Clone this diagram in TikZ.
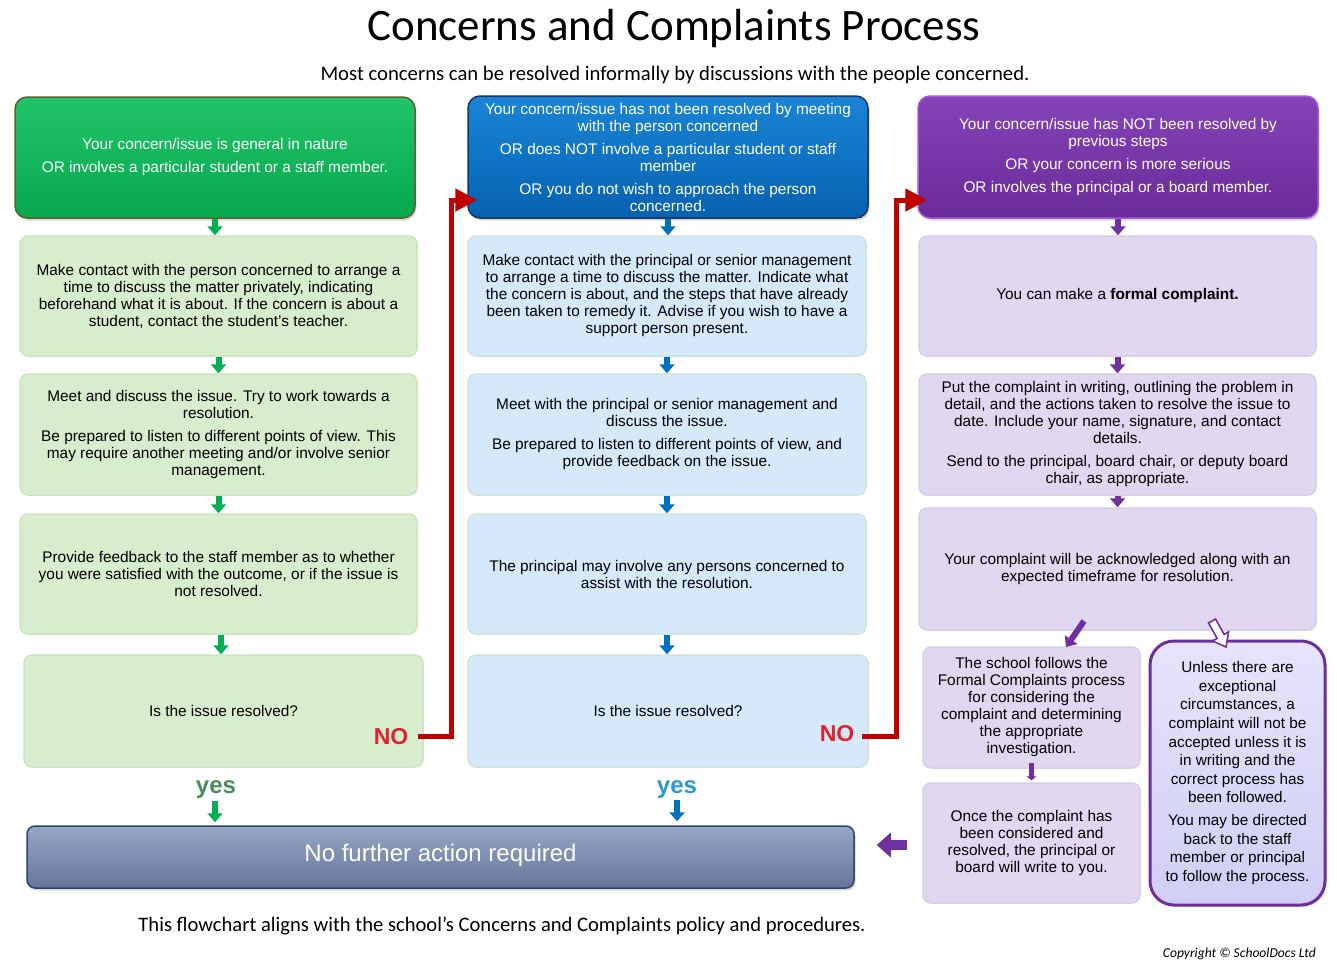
\documentclass[tikz,border=0pt]{standalone}
\usepackage{fontspec}
\setmainfont{Liberation Sans}
\newfontfamily\carlito{Carlito}
\usetikzlibrary{arrows.meta,shadows,calc}
\definecolor{gtop}{HTML}{22C46A}
\definecolor{gbot}{HTML}{05A84B}
\definecolor{gbord}{HTML}{5B6430}
\definecolor{btop}{HTML}{1A84D6}
\definecolor{bbot}{HTML}{0662B0}
\definecolor{bbord}{HTML}{1B3564}
\definecolor{ptop}{HTML}{8442B8}
\definecolor{pbot}{HTML}{6A2C98}
\definecolor{pbord}{HTML}{A656DE}
\definecolor{lgreen}{HTML}{D8EDCD}
\definecolor{lgreenb}{HTML}{CBE5BE}
\definecolor{lblue}{HTML}{D5E9FA}
\definecolor{lblueb}{HTML}{CFE3DA}
\definecolor{lpurp}{HTML}{E0D8F0}
\definecolor{lpurpb}{HTML}{D6CFE6}
\definecolor{rtop}{HTML}{E6E4FB}
\definecolor{rbot}{HTML}{D0CEF5}
\definecolor{rbord}{HTML}{6E2E9E}
\definecolor{bartop}{HTML}{97A6C6}
\definecolor{barbot}{HTML}{65769A}
\definecolor{barbord}{HTML}{2C4475}
\definecolor{agreen}{HTML}{00B050}
\definecolor{ablue}{HTML}{0070C0}
\definecolor{apurp}{HTML}{7030A0}
\definecolor{redc}{HTML}{C00000}
\definecolor{nored}{HTML}{E0222C}
\definecolor{yesg}{HTML}{4A8C5C}
\definecolor{yesb}{HTML}{2A9AD6}
\begin{document}
\begin{tikzpicture}[x=1pt,y=-1pt,
  txt/.style={font=\fontsize{15.4}{17}\selectfont, align=center, inner sep=0pt},
  hdr/.style={txt, rounded corners=12pt, line width=1.5pt, text=white,
    drop shadow={opacity=0.3,shadow xshift=1.5pt,shadow yshift=-2.5pt}},
  lbox/.style={txt, rounded corners=8pt, line width=1.5pt},
  gbox/.style={lbox, fill=lgreen, draw=lgreenb},
  bbox/.style={lbox, fill=lblue, draw=lblueb},
  pbox/.style={lbox, fill=lpurp, draw=lpurpb},
  dnarrow/.style={line width=6pt, -{Triangle[width=15pt,length=9pt]}},
  garrow/.style={dnarrow, draw=agreen, color=agreen},
  barrow/.style={dnarrow, draw=ablue, color=ablue},
  parrow/.style={dnarrow, draw=apurp, color=apurp},
  redl/.style={draw=redc, color=redc, line width=5pt, line join=miter, -{Triangle[width=22pt,length=22pt]}},
  nolab/.style={font=\bfseries\fontsize{23}{23}\selectfont, text=nored, inner sep=0pt},
  yeslab/.style={font=\bfseries\fontsize{24}{24}\selectfont, inner sep=0pt},
]
\useasboundingbox[fill=white] (0,0) rectangle (1337,975);

% titles
\node[font=\carlito\fontsize{45}{45}\selectfont, anchor=base, inner sep=0pt] (title) at (674,40) {Concerns and Complaints Process};
\node[font=\carlito\fontsize{20.7}{22}\selectfont, anchor=base, inner sep=0pt] (sub) at (675,80) {Most concerns can be resolved informally by discussions with the people concerned.};
\node[font=\carlito\fontsize{20.6}{22}\selectfont, anchor=base, inner sep=0pt] (foot) at (502,931) {This flowchart aligns with the school’s Concerns and Complaints policy and procedures.};
\node[font=\carlito\itshape\fontsize{13.6}{15}\selectfont, anchor=base east, inner sep=0pt] (copy) at (1316,957) {Copyright © SchoolDocs Ltd};

% column 1
\node[hdr, top color=gtop, bottom color=gbot, draw=gbord, minimum width=400pt, minimum height=121pt] (g0) at (215,157.5)
 {Your concern/issue is general in nature\\[6pt]OR involves a particular student or a staff member.};
\node[gbox, minimum width=397pt, minimum height=120pt] (g1) at (218.5,296)
 {Make contact with the person concerned to arrange a\\time to discuss the matter privately, indicating\\beforehand what it is about. If the concern is about a\\student, contact the student’s teacher.};
\node[gbox, minimum width=397pt, minimum height=121pt] (g2) at (218.5,434.5)
 {Meet and discuss the issue. Try to work towards a\\resolution.\\[6pt]Be prepared to listen to different points of view. This\\may require another meeting and/or involve senior\\management.};
\node[gbox, minimum width=397pt, minimum height=120pt] (g3) at (218.5,574)
 {Provide feedback to the staff member as to whether\\you were satisfied with the outcome, or if the issue is\\not resolved.};
\node[gbox, minimum width=399pt, minimum height=112pt] (g4) at (223.5,711) {Is the issue resolved?};

% column 2
\node[hdr, top color=btop, bottom color=bbot, draw=bbord, minimum width=400pt, minimum height=122pt] (b0) at (668,157)
 {Your concern/issue has not been resolved by meeting\\with the person concerned\\[6pt]OR does NOT involve a particular student or staff\\member\\[6pt]OR you do not wish to approach the person\\concerned.};
\node[bbox, minimum width=398pt, minimum height=120pt] (b1) at (667,296)
 {Make contact with the principal or senior management\\to arrange a time to discuss the matter. Indicate what\\the concern is about, and the steps that have already\\been taken to remedy it. Advise if you wish to have a\\support person present.};
\node[bbox, minimum width=398pt, minimum height=121pt] (b2) at (667,434.5)
 {Meet with the principal or senior management and\\discuss the issue.\\[6pt]Be prepared to listen to different points of view, and\\provide feedback on the issue.};
\node[bbox, minimum width=398pt, minimum height=120pt] (b3) at (667,574)
 {The principal may involve any persons concerned to\\assist with the resolution.};
\node[bbox, minimum width=400pt, minimum height=112pt] (b4) at (668,711) {Is the issue resolved?};

% column 3
\node[hdr, top color=ptop, bottom color=pbot, draw=pbord, minimum width=400pt, minimum height=122pt] (p0) at (1118,157)
 {Your concern/issue has NOT been resolved by\\previous steps\\[6pt]OR your concern is more serious\\[6pt]OR involves the principal or a board member.};
\node[pbox, minimum width=397pt, minimum height=120pt] (p1) at (1117.5,296)
 {You can make a \textbf{formal complaint.}};
\node[pbox, minimum width=397pt, minimum height=121pt] (p2) at (1117.5,434.5)
 {Put the complaint in writing, outlining the problem in\\detail, and the actions taken to resolve the issue to\\date. Include your name, signature, and contact\\details.\\[6pt]Send to the principal, board chair, or deputy board\\chair, as appropriate.};
\node[pbox, minimum width=397pt, minimum height=122pt] (p3) at (1117.5,569)
 {Your complaint will be acknowledged along with an\\expected timeframe for resolution.};
\node[pbox, minimum width=217pt, minimum height=121pt] (l1) at (1031.5,707.5)
 {The school follows the\\Formal Complaints process\\for considering the\\complaint and determining\\the appropriate\\investigation.};
\node[pbox, minimum width=217pt, minimum height=120pt] (l2) at (1031.5,843)
 {Once the complaint has\\been considered and\\resolved, the principal or\\board will write to you.};
\node[txt, font=\fontsize{15.3}{18.6}\selectfont, rounded corners=24pt, line width=3pt, draw=rbord, top color=rtop, bottom color=rbot,
  minimum width=175pt, minimum height=264pt,
  drop shadow={opacity=0.25,shadow xshift=1.5pt,shadow yshift=-2pt}] (r) at (1237.5,773)
 {Unless there are\\exceptional\\circumstances, a\\complaint will not be\\accepted unless it is\\in writing and the\\correct process has\\been followed.\\[4pt]You may be directed\\back to the staff\\member or principal\\to follow the process.};

% bottom bar
\node[rounded corners=8pt, draw=barbord, line width=1.5pt, top color=bartop, bottom color=barbot,
  minimum width=827pt, minimum height=62pt, text=white, font=\fontsize{24}{24}\selectfont,
  drop shadow={opacity=0.3,shadow xshift=1.5pt,shadow yshift=-2.5pt}, text depth=9pt] (bar) at (440.5,857) {No further action required};

% NO / yes labels
\node[nolab] (no1) at (391,737) {NO};
\node[nolab] (no2) at (837,734) {NO};
\node[yeslab, text=yesg] (yes1) at (216,790) {yes};
\node[yeslab, text=yesb] (yes2) at (677,790) {yes};

% green arrows
\draw[garrow] (g0.south) -- (g0.south |- g1.north);
\draw[garrow] (g1.south) -- (g2.north);
\draw[garrow] (g2.south) -- (g3.north);
\draw[garrow] ($(g3.south)+(2.5,0)$) -- ($(g3.south |- g4.north)+(2.5,0)$);
\draw[garrow] ($(yes1.south)+(-1,2)$) -- ($(yes1.south |- bar.north)+(-1,-3)$);

% blue arrows
\draw[barrow] (b0.south) -- (b0.south |- b1.north);
\draw[barrow] (b1.south) -- (b2.north);
\draw[barrow] (b2.south) -- (b3.north);
\draw[barrow] (b3.south) -- (b3.south |- b4.north);
\draw[barrow] ($(yes2.south)+(0,1)$) -- ($(yes2.south |- bar.north)+(0,-4)$);

% purple arrows
\draw[parrow] (p0.south) -- (p0.south |- p1.north);
\draw[parrow] (p1.south) -- (p2.north);
\draw[parrow] (p2.south) -- (p3.north);
\coordinate (d1) at (1084,621);
\coordinate (d2) at (1066,647);
\draw[parrow] (d1) -- (d2);
\draw[parrow, line width=5pt, -{Triangle[width=10pt,length=4pt]}] ($(l1.south)+(0,-6)$) -- ($(l2.north)+(0,-2)$);
\draw[parrow, line width=10pt, -{Triangle[width=24pt,length=14pt]}] ($(l2.west)+(-15,2)$) -- ($(bar.east)+(22,-12)$ |- 0,845);
% hollow arrow to the right box
\draw[draw=apurp, fill=white, line width=1.6pt, line join=miter]
  (1215.5,619) -- (1224.1,634.4) -- (1228.6,631.8) -- (1226,647) -- (1212.6,641) -- (1217.1,638.4) -- (1208.5,623) -- cycle;

% red NO connectors
\draw[redl] ($(no1.east)+(10,-1)$) -| ($(b0.west)+(-16,43)$) -- ($(b0.west)+(10,43)$);
\draw[redl] ($(no2.east)+(8,2)$) -| ($(p0.west)+(-21,43)$) -- ($(p0.west)+(10,43)$);
\end{tikzpicture}
\end{document}
